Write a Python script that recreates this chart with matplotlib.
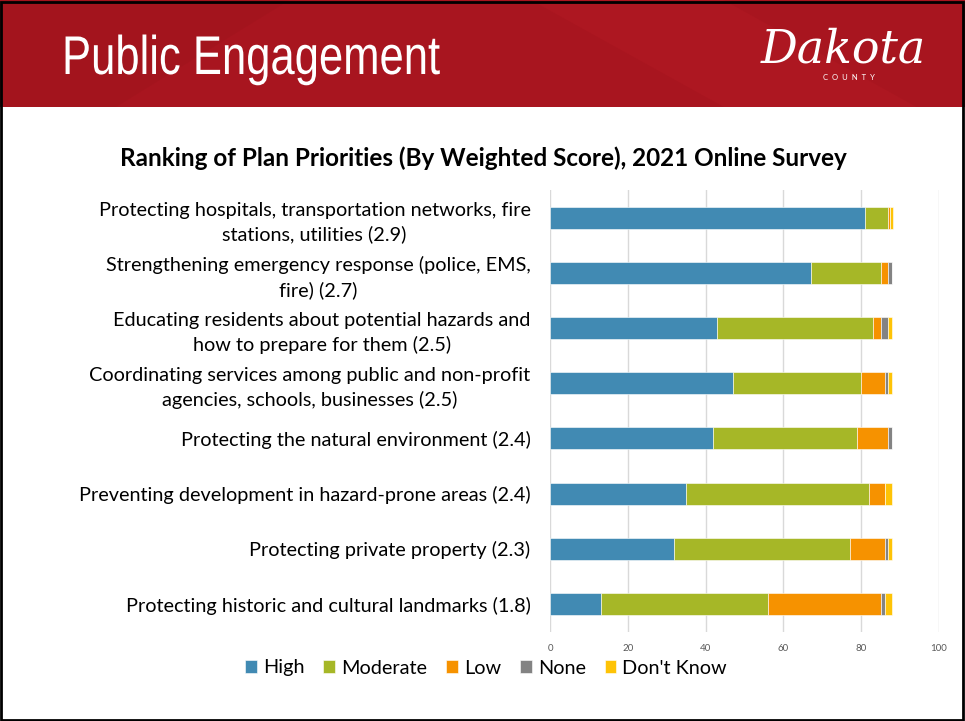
import matplotlib.pyplot as plt
from matplotlib.patches import Rectangle, Polygon, PathPatch
from matplotlib.textpath import TextPath
from matplotlib.font_manager import FontProperties
from matplotlib.transforms import Affine2D
import numpy as np

categories = [
    "Protecting hospitals, transportation networks, fire\nstations, utilities (2.9)",
    "Strengthening emergency response (police, EMS,\nfire) (2.7)",
    "Educating residents about potential hazards and\nhow to prepare for them (2.5)",
    "Coordinating services among public and non-profit\nagencies, schools, businesses (2.5)",
    "Protecting the natural environment (2.4)",
    "Preventing development in hazard-prone areas (2.4)",
    "Protecting private property (2.3)",
    "Protecting historic and cultural landmarks (1.8)",
]
high = [81, 67, 43, 47, 42, 35, 32, 13]
moderate = [6, 18, 40, 33, 37, 47, 45, 43]
low = [0.3, 2, 2, 6, 8, 4, 9, 29]
none = [0, 1, 2, 1, 1, 0, 1, 1]
dont_know = [1, 0, 1, 1, 0, 2, 1, 2]

series = ["High", "Moderate", "Low", "None", "Don't Know"]
colors = ["#418AB3", "#A6B727", "#F69200", "#838383", "#FEC306"]
xticks = [0, 20, 40, 60, 80, 100]

font = ['Lato', 'DejaVu Sans']
W, H = 965, 721

fig = plt.figure(figsize=(W / 100, H / 100), dpi=100)

# header band
hb = 107 / H
fig.patches.append(Rectangle((0, 1 - hb), 1, hb, transform=fig.transFigure,
                             facecolor="#A8151F", edgecolor="none", zorder=0))
fig.patches.append(Polygon([(0.55, 1), (0.75, 1 - hb), (0.95, 1 - hb), (0.75, 1)],
                           closed=True, transform=fig.transFigure,
                           facecolor="#AD1721", edgecolor="none", zorder=0))
fig.patches.append(Polygon([(0.0, 1), (0.0, 1 - hb), (0.12, 1 - hb), (0.3, 1)],
                           closed=True, transform=fig.transFigure,
                           facecolor="#A3141D", edgecolor="none", zorder=0))
# slide border
fig.patches.append(Rectangle((0.001, 0.002), 0.997, 0.995, transform=fig.transFigure,
                             facecolor="none", edgecolor="black", linewidth=2, zorder=5))

# narrow header title: Liberation Sans squeezed sideways
tp = TextPath((0, 0), "Public Engagement", size=54.5,
              prop=FontProperties(family="Liberation Sans"))
tr = Affine2D().scale(0.80, 1.0).translate(62, H - 74) + Affine2D().scale(1 / W, 1 / H) \
    + fig.transFigure
fig.patches.append(PathPatch(tp, transform=tr, facecolor="white", edgecolor="none", zorder=6))

fig.text(843 / W, 1 - 50 / H, "Dakota", color="white", fontsize=33, style="italic",
         family=['DejaVu Serif'], va="center", ha="center")
fig.text(849 / W, 1 - 78 / H, "C  O  U  N  T  Y", color="white", fontsize=5.5,
         family=font, va="center", ha="center")

fig.text(483 / W, 1 - 158 / H,
         "Ranking of Plan Priorities (By Weighted Score), 2021 Online Survey",
         fontsize=17.5, fontweight="bold", family=font, ha="center", va="center")

ax = fig.add_axes([550 / W, 1 - 631.6 / H, 389 / W, 441.6 / H])
y = np.arange(len(categories))
data = [high, moderate, low, none, dont_know]
left = np.zeros(len(categories))
for name, vals, c in zip(series, data, colors):
    ax.barh(y, vals, left=left, height=0.4, color=c, edgecolor="white",
            linewidth=0.4, label=name, zorder=3)
    left += np.array(vals)

ax.set_ylim(len(categories) - 0.5, -0.5)
ax.set_xlim(0, 100)
ax.set_xticks(xticks)
ax.set_yticks(y)
ax.set_yticklabels(categories, fontsize=14.3, family=font, multialignment="center",
                   linespacing=1.45)
ax.tick_params(axis="y", length=0, pad=14)
ax.tick_params(axis="x", length=0, labelsize=7, labelcolor="#595959", pad=9)
for lab in ax.get_xticklabels():
    lab.set_family(font)
ax.grid(axis="x", color="#D9D9D9", linewidth=1, zorder=0)
for s in ax.spines.values():
    s.set_visible(False)

handles, labels = ax.get_legend_handles_labels()
leg = fig.legend(handles, labels, loc="center", bbox_to_anchor=(486 / W, 1 - 668 / H),
                 ncol=5, frameon=False, prop={"family": font, "size": 14.3},
                 handlelength=0.6, handleheight=0.6, handletextpad=0.3, columnspacing=0.95)

fig.savefig("out.png", dpi=100)
